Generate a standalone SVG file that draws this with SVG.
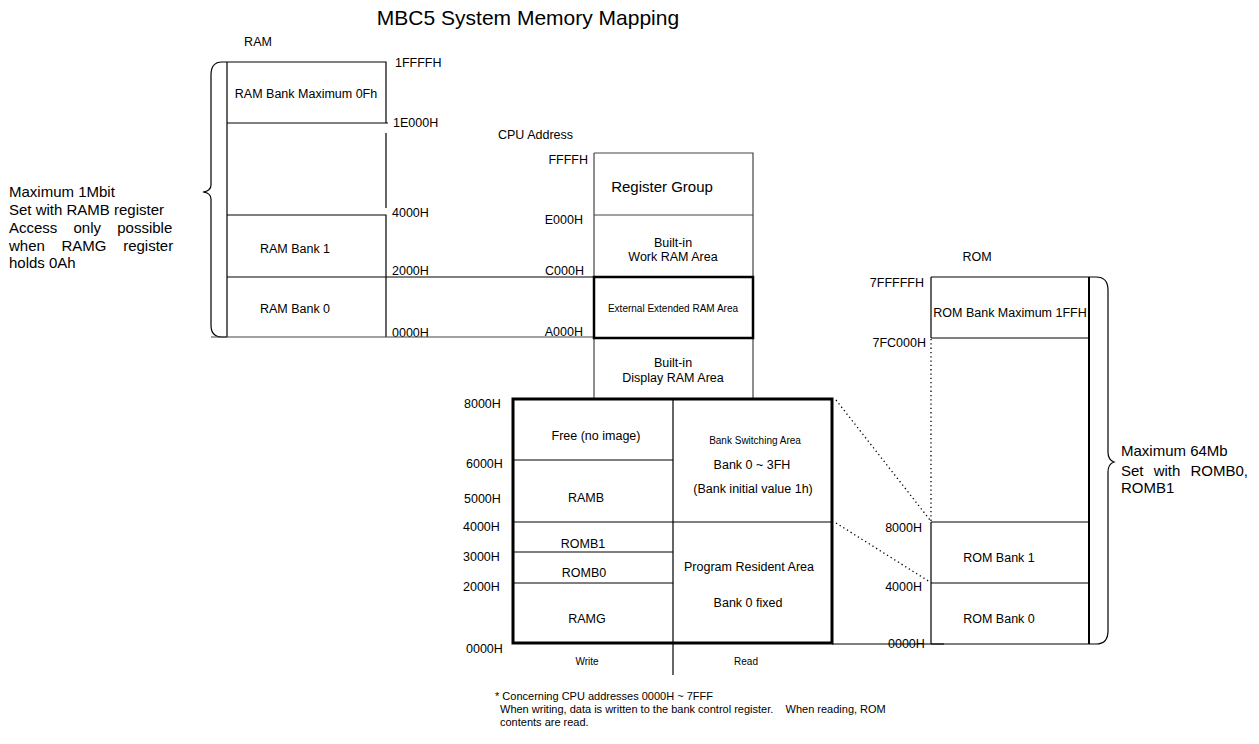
<svg xmlns="http://www.w3.org/2000/svg" width="1259" height="744" viewBox="0 0 1259 744">
<style>
text{font-family:"Liberation Sans",Arial,sans-serif;fill:#000}
.t{font-size:12.5px}
.s{font-size:10px}
.m{font-size:15px}
.ln{stroke:#000;stroke-width:1.2;fill:none}
.g{stroke:#444;stroke-width:1.2;fill:none}
.b{stroke:#000;stroke-width:3;fill:none}
.dot{stroke:#000;stroke-width:1.3;stroke-dasharray:1.3 3;fill:none}
.c{text-anchor:middle}
.r{text-anchor:end}
</style>
<rect width="1259" height="744" fill="#fff"/>
<text id="title" x="528" y="25" class="c" style="font-size:21px">MBC5 System Memory Mapping</text>

<g id="ram">
<text x="258" y="46" class="t c">RAM</text>
<path class="ln" d="M227,62H386V123M227,123H388M386,133V208M227,215H386V337M227,62V337"/>
<text x="306" y="98" class="t c">RAM Bank Maximum 0Fh</text>
<text x="295" y="253" class="t c">RAM Bank 1</text>
<text x="295" y="313" class="t c">RAM Bank 0</text>
<text x="395" y="67" class="t">1FFFFH</text>
<text x="393" y="127" class="t">1E000H</text>
<text x="392" y="217" class="t">4000H</text>
<text x="392" y="275" class="t">2000H</text>
<text x="392" y="337" class="t">0000H</text>
</g>

<g id="ram-brace">
<path class="ln" d="M227,62H222Q211,62 211,75V185Q211,191 203,192Q211,193 211,199V325Q211,337 222,337H227"/>
<text class="m" x="9" y="197">Maximum 1Mbit</text>
<text class="m" x="9" y="215">Set with RAMB register</text>
<text class="m" x="9" y="232.5" style="word-spacing:12px">Access only possible</text>
<text class="m" x="9" y="250.5" style="word-spacing:12.5px">when RAMG register</text>
<text class="m" x="9" y="268">holds 0Ah</text>
</g>

<g id="connectors">
<path class="ln" d="M227,277H594"/>
<path class="g" d="M211,337H594"/>
<path class="dot" d="M836,400L930,520"/>
<path class="dot" d="M836,523L930,582"/>
<path class="ln" d="M832,644H944"/>
<path class="ln" d="M673,643V675"/>
</g>

<g id="cpu">
<text x="498" y="139" class="t">CPU Address</text>
<path class="g" d="M594,153H753V399M594,153V399M594,215H753"/>
<text x="588" y="164" class="t r">FFFFH</text>
<text x="583" y="224" class="t r">E000H</text>
<text x="584" y="275" class="t r">C000H</text>
<text x="583" y="336" class="t r">A000H</text>
<text x="662" y="192" class="m c">Register Group</text>
<text x="673" y="247" class="t c">Built-in</text>
<text x="673" y="261" class="t c">Work RAM Area</text>
<text x="673" y="367" class="t c">Built-in</text>
<text x="673" y="382" class="t c">Display RAM Area</text>
</g>

<g id="ext-ram">
<rect class="b" x="594" y="277" width="159" height="61" style="stroke-width:2.5"/>
<text x="673" y="312" class="s c">External Extended RAM Area</text>
</g>

<g id="rom-area">
<rect class="b" x="513" y="399" width="319" height="244"/>
<path class="ln" d="M673,399V643M513,460H673M513,522H832M513,552H673M513,583H673"/>
<text x="464" y="408" class="t">8000H</text>
<text x="466" y="468" class="t">6000H</text>
<text x="464" y="503" class="t">5000H</text>
<text x="463" y="531" class="t">4000H</text>
<text x="463" y="561" class="t">3000H</text>
<text x="463" y="591" class="t">2000H</text>
<text x="466" y="653" class="t">0000H</text>
<text x="596" y="440" class="t c">Free (no image)</text>
<text x="586" y="502" class="t c">RAMB</text>
<text x="583" y="548" class="t c">ROMB1</text>
<text x="584" y="577" class="t c">ROMB0</text>
<text x="587" y="623" class="t c">RAMG</text>
<text x="755" y="444" class="s c">Bank Switching Area</text>
<text x="752" y="469" class="t c">Bank 0 ~ 3FH</text>
<text x="753" y="493" class="t c">(Bank initial value 1h)</text>
<text x="749" y="571" class="t c">Program Resident Area</text>
<text x="748" y="607" class="t c">Bank 0 fixed</text>
<text x="587" y="665" class="s c">Write</text>
<text x="746" y="665" class="s c">Read</text>
</g>

<g id="rom">
<text x="977" y="261" class="t c">ROM</text>
<path class="ln" d="M931,277H1089M931,338H1089M931,522H1089M931,583H1089M931,644H1089M931,277V338M931,522V644"/>
<path class="dot" d="M931,339V521"/>
<path class="ln" style="stroke-width:2" d="M1089,277V644"/>
<text x="1010" y="317" class="t c">ROM Bank Maximum 1FFH</text>
<text x="999" y="562" class="t c">ROM Bank 1</text>
<text x="999" y="623" class="t c">ROM Bank 0</text>
<text x="924" y="287" class="t r">7FFFFFH</text>
<text x="926" y="347" class="t r">7FC000H</text>
<text x="922" y="532" class="t r">8000H</text>
<text x="922" y="591" class="t r">4000H</text>
<text x="888" y="648" class="t">0000H</text>
</g>

<g id="rom-brace">
<path class="ln" d="M1089,277H1096Q1108,277 1108,290V452Q1108,460 1114,462Q1108,464 1108,472V631Q1108,644 1096,644H1089"/>
<text class="m" x="1121" y="456">Maximum 64Mb</text>
<text class="m" x="1121" y="476" style="word-spacing:6px">Set with ROMB0,</text>
<text class="m" x="1121" y="493">ROMB1</text>
</g>

<g id="note">
<text x="495" y="700" style="font-size:11px">* Concerning CPU addresses 0000H ~ 7FFF</text>
<text x="500" y="713" style="font-size:11px" xml:space="preserve">When writing, data is written to the bank control register.    When reading, ROM</text>
<text x="500" y="726" style="font-size:11px">contents are read.</text>
</g>
</svg>
